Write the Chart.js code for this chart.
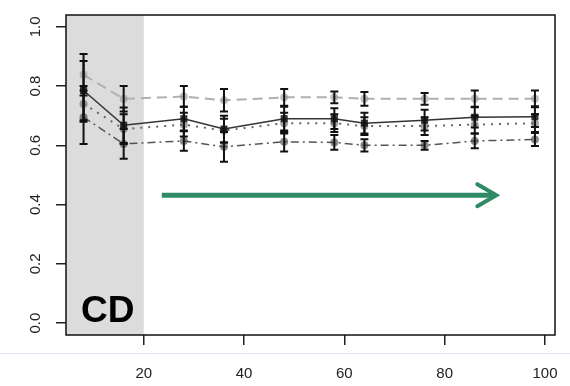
<!DOCTYPE html>
<html>
<head>
<meta charset="utf-8">
<script src="https://cdn.jsdelivr.net/npm/chart.js@4.4.1/dist/chart.umd.min.js"></script>
<style>
  html, body { margin: 0; padding: 0; background: #fff; }
  #wrap { width: 570px; height: 386px; position: relative; }
</style>
</head>
<body>
<div id="wrap"><canvas id="chart"></canvas></div>
<script>
// sample positions (x) and tick labels
const sampleX = [8, 16, 28, 36, 48, 58, 64, 76, 86, 98];
const xTicks = [20, 40, 60, 80, 100];
const yTicks = [0, 0.2, 0.4, 0.6, 0.8, 1.0];

// four series (means) and their half error bars
const seriesA = [0.838, 0.757, 0.765, 0.752, 0.762, 0.762, 0.757, 0.757, 0.757, 0.757];
const errA    = [0.070, 0.043, 0.035, 0.038, 0.028, 0.020, 0.023, 0.020, 0.028, 0.028];
const seriesB = [0.785, 0.668, 0.690, 0.655, 0.690, 0.690, 0.675, 0.685, 0.695, 0.697];
const errB    = [0.100, 0.060, 0.040, 0.045, 0.040, 0.035, 0.035, 0.035, 0.035, 0.035];
const seriesC = [0.740, 0.655, 0.670, 0.650, 0.675, 0.675, 0.665, 0.665, 0.670, 0.675];
const errC    = [0.060, 0.050, 0.040, 0.040, 0.035, 0.030, 0.030, 0.030, 0.030, 0.030];
const seriesD = [0.695, 0.605, 0.615, 0.595, 0.612, 0.610, 0.600, 0.600, 0.615, 0.620];
const errD    = [0.090, 0.050, 0.033, 0.050, 0.033, 0.025, 0.021, 0.015, 0.025, 0.022];

// shaded "CD" window and trend arrow (data units)
const shadeEnd = 20;
const arrowFrom = [23.6, 0.432];
const arrowTo = [90.3, 0.432];

const errors = [errA, errB, errC, errD];
const pts = (ys) => sampleX.map((x, i) => ({ x, y: ys[i] }));
const FONT = "'Liberation Sans', Arial, sans-serif";

const decor = {
  id: "decor",
  beforeDatasetsDraw(chart) {
    const { ctx, chartArea: a, scales: { x } } = chart;
    ctx.save();
    ctx.fillStyle = "#dcdcdc";
    ctx.fillRect(a.left, a.top, x.getPixelForValue(shadeEnd) - a.left, a.bottom - a.top);
    ctx.restore();
  },
  afterDatasetsDraw(chart) {
    const { ctx, chartArea: a, scales: { x, y } } = chart;
    ctx.save();
    // error bars
    ctx.strokeStyle = "#111";
    ctx.lineWidth = 2;
    errors.forEach((err, di) => {
      chart.data.datasets[di].data.forEach((p, i) => {
        const px = x.getPixelForValue(p.x);
        const y1 = y.getPixelForValue(p.y + err[i]);
        const y2 = y.getPixelForValue(p.y - err[i]);
        ctx.beginPath();
        ctx.moveTo(px, y1); ctx.lineTo(px, y2);
        ctx.moveTo(px - 4, y1); ctx.lineTo(px + 4, y1);
        ctx.moveTo(px - 4, y2); ctx.lineTo(px + 4, y2);
        ctx.stroke();
      });
    });

    // CD label
    ctx.fillStyle = "#000";
    ctx.font = "bold 37px " + FONT;
    ctx.textBaseline = "alphabetic";
    ctx.fillText("CD", a.left + 15, a.bottom - 13);

    // arrow
    const ax1 = x.getPixelForValue(arrowFrom[0]), ay = y.getPixelForValue(arrowFrom[1]);
    const ax2 = x.getPixelForValue(arrowTo[0]);
    ctx.strokeStyle = "#2e8b64";
    ctx.lineWidth = 5;
    ctx.lineCap = "butt";
    ctx.beginPath();
    ctx.moveTo(ax1, ay); ctx.lineTo(ax2 - 2, ay);
    ctx.stroke();
    ctx.lineWidth = 4;
    ctx.lineCap = "round";
    ctx.beginPath();
    ctx.moveTo(ax2 - 19, ay - 11); ctx.lineTo(ax2, ay); ctx.lineTo(ax2 - 19, ay + 11);
    ctx.stroke();

    // plot box
    ctx.strokeStyle = "#111";
    ctx.lineWidth = 1.5;
    ctx.lineCap = "butt";
    ctx.strokeRect(a.left, a.top, a.right - a.left, a.bottom - a.top);
    ctx.restore();
  },
  afterDraw(chart) {
    const { ctx, scales: { y } } = chart;
    ctx.save();
    // rotated y labels
    ctx.fillStyle = "#222";
    ctx.font = "15px " + FONT;
    ctx.textAlign = "center";
    ctx.textBaseline = "middle";
    yTicks.forEach((v) => {
      ctx.save();
      ctx.translate(36, y.getPixelForValue(v));
      ctx.rotate(-Math.PI / 2);
      ctx.fillText(v.toFixed(1), 0, 0);
      ctx.restore();
    });
    // faint separator line
    ctx.strokeStyle = "#dfe7f5";
    ctx.lineWidth = 1;
    ctx.beginPath();
    ctx.moveTo(0, 353.5); ctx.lineTo(570, 353.5);
    ctx.stroke();
    ctx.restore();
  }
};

new Chart(document.getElementById("chart"), {
  type: "line",
  data: {
    datasets: [
      { data: pts(seriesA), borderColor: "#b0b0b0", borderWidth: 2, borderDash: [10, 6],
        pointStyle: "circle", pointRadius: 4, pointBackgroundColor: "rgba(150,150,150,0.6)", pointBorderWidth: 0 },
      { data: pts(seriesB), borderColor: "#333", borderWidth: 1.5,
        pointStyle: "rect", pointRadius: 5, pointBackgroundColor: "rgba(20,20,20,0.85)", pointBorderWidth: 0 },
      { data: pts(seriesC), borderColor: "#666", borderWidth: 2, borderDash: [2, 6],
        pointStyle: "circle", pointRadius: 4, pointBackgroundColor: "rgba(90,90,90,0.55)", pointBorderWidth: 0 },
      { data: pts(seriesD), borderColor: "#555", borderWidth: 1.5, borderDash: [8, 4, 2, 4],
        pointStyle: "circle", pointRadius: 4, pointBackgroundColor: "rgba(60,60,60,0.6)", pointBorderWidth: 0 }
    ]
  },
  options: {
    responsive: true,
    maintainAspectRatio: false,
    animation: false,
    layout: { padding: { top: 15, right: 15, left: 0, bottom: 0 } },
    plugins: { legend: { display: false }, tooltip: { enabled: false } },
    scales: {
      x: {
        type: "linear", min: 4.5, max: 102,
        afterBuildTicks: (s) => { s.ticks = xTicks.map((v) => ({ value: v })); },
        afterFit: (s) => { s.height = 51; s.paddingLeft = 0; s.paddingRight = 0; },
        border: { display: false },
        grid: { drawOnChartArea: false, drawTicks: true, tickLength: 10, color: "#222", lineWidth: 1.5 },
        ticks: { color: "#222", padding: 20, maxRotation: 0, font: { family: FONT, size: 15 } }
      },
      y: {
        type: "linear", min: -0.04, max: 1.04,
        afterBuildTicks: (s) => { s.ticks = yTicks.map((v) => ({ value: v })); },
        afterFit: (s) => { s.width = 66; s.paddingTop = 0; s.paddingBottom = 0; },
        border: { display: false },
        grid: { drawOnChartArea: false, drawTicks: true, tickLength: 10, color: "#222", lineWidth: 1.5 },
        ticks: { display: false }
      }
    }
  },
  plugins: [decor]
});
</script>
</body>
</html>
